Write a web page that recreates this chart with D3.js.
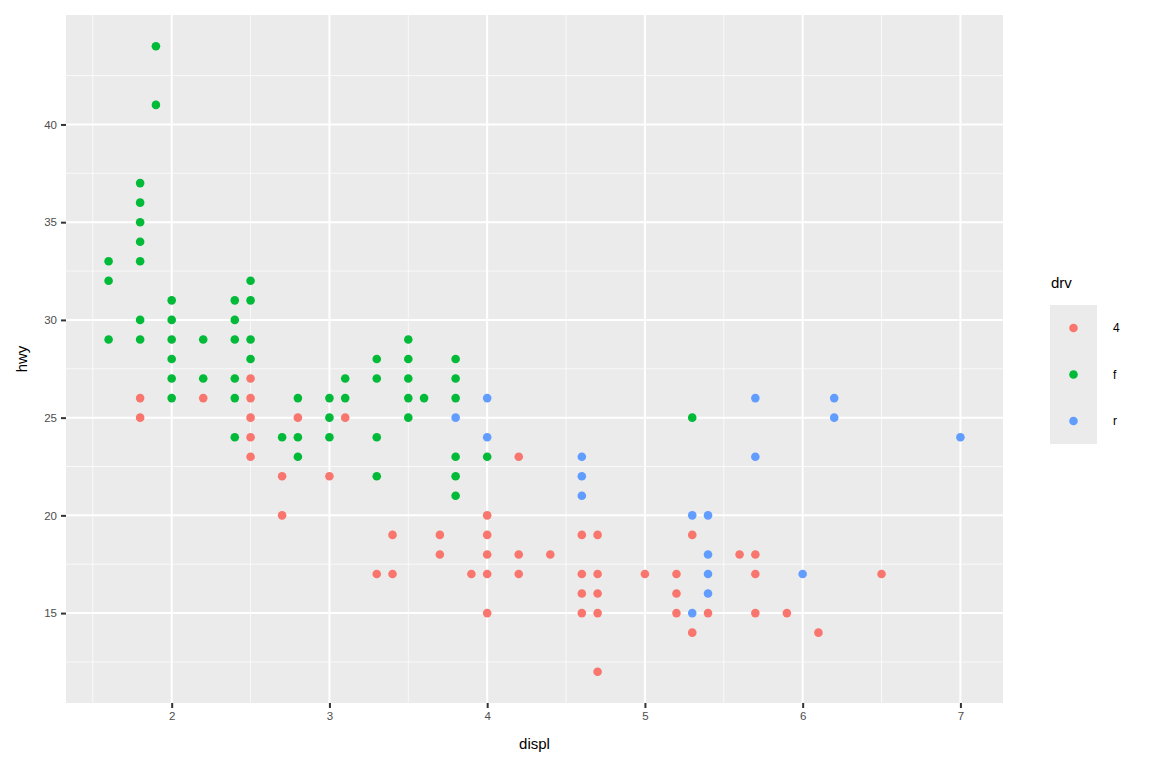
<!DOCTYPE html>
<html><head><meta charset="utf-8">
<script src="https://cdn.jsdelivr.net/npm/d3@7"></script>
<style>body{margin:0;background:#fff}text{font-family:"Liberation Sans",Arial,sans-serif}</style>
</head><body><svg id="c" width="1152" height="768"></svg>
<script>
const drvLevels = ["4","f","r"];
const colors = ["#F8766D","#00BA38","#619CFF"];
const xTicks = [2,3,4,5,6,7];
const yTicks = [15,20,25,30,35,40];
// [displ, [hwy values]] per drive type
const ptsF = [[1.6,[33,32,29]],[1.8,[37,36,35,34,33,30,29]],[1.9,[44,41]],[2.0,[31,30,29,28,27,26]],[2.2,[29,27]],[2.4,[31,30,29,27,26,24]],[2.5,[32,31,29,28]],[2.7,[24]],[2.8,[26,24,23]],[3.0,[26,25,24]],[3.1,[27,26]],[3.3,[28,27,24,22]],[3.5,[29,28,27,26,25]],[3.6,[26]],[3.8,[28,27,26,23,22,21]],[4.0,[23]],[5.3,[25]]];
const pts4 = [[1.8,[26,25]],[2.2,[26]],[2.5,[27,26,25,24,23]],[2.7,[22,20]],[2.8,[25]],[3.0,[22]],[3.1,[25]],[3.3,[17]],[3.4,[19,17]],[3.7,[19,18]],[3.9,[17]],[4.0,[20,19,18,17,15]],[4.2,[23,18,17]],[4.4,[18]],[4.6,[19,17,16,15]],[4.7,[19,17,16,15,12]],[5.0,[17]],[5.2,[17,16,15]],[5.3,[19,14]],[5.4,[15]],[5.6,[18]],[5.7,[18,17,15]],[5.9,[15]],[6.1,[14]],[6.5,[17]]];
const ptsR = [[3.8,[25]],[4.0,[26,24]],[4.6,[23,22,21]],[5.3,[20,15]],[5.4,[20,18,17,16]],[5.7,[26,23]],[6.0,[17]],[6.2,[26,25]],[7.0,[24]]];

const svg = d3.select("#c");
const L=66,R=1003,T=15,B=703;
const x = d3.scaleLinear().domain([1.33,7.27]).range([L,R]);
const y = d3.scaleLinear().domain([10.4,45.6]).range([B,T]);
svg.append("rect").attr("x",L).attr("y",T).attr("width",R-L).attr("height",B-T).attr("fill","#EBEBEB");
const g = svg.append("g");
const xMinor = [1.5,2.5,3.5,4.5,5.5,6.5];
const yMinor = [12.5,17.5,22.5,27.5,32.5,37.5,42.5];
xMinor.forEach(d=>g.append("line").attr("x1",x(d)).attr("x2",x(d)).attr("y1",T).attr("y2",B).attr("stroke","#fff").attr("stroke-width",0.7));
yMinor.forEach(d=>g.append("line").attr("y1",y(d)).attr("y2",y(d)).attr("x1",L).attr("x2",R).attr("stroke","#fff").attr("stroke-width",0.7));
xTicks.forEach(d=>g.append("line").attr("x1",x(d)).attr("x2",x(d)).attr("y1",T).attr("y2",B).attr("stroke","#fff").attr("stroke-width",2));
yTicks.forEach(d=>g.append("line").attr("y1",y(d)).attr("y2",y(d)).attr("x1",L).attr("x2",R).attr("stroke","#fff").attr("stroke-width",2));

const xa = svg.append("g").attr("transform",`translate(0,${B})`).call(d3.axisBottom(x).tickValues(xTicks).tickFormat(d3.format("d")).tickSize(5).tickPadding(4));
const ya = svg.append("g").attr("transform",`translate(${L},0)`).call(d3.axisLeft(y).tickValues(yTicks).tickFormat(d3.format("d")).tickSize(5).tickPadding(4));
[xa,ya].forEach(a=>{a.select(".domain").remove();a.selectAll(".tick line").attr("stroke","#333333").attr("stroke-width",2);a.selectAll("text").attr("fill","#4D4D4D").style("font-size","11.5px").style("font-family","Liberation Sans, Arial");});

const all=[];
[[pts4,0],[ptsF,1],[ptsR,2]].forEach(([arr,k])=>arr.forEach(([dx,hs])=>hs.forEach(h=>all.push({dx,h,k}))));
svg.append("g").selectAll("circle").data(all).join("circle").attr("cx",d=>x(d.dx)).attr("cy",d=>y(d.h)).attr("r",4.3).attr("fill",d=>colors[d.k]);

svg.append("text").attr("x",(L+R)/2).attr("y",749).attr("text-anchor","middle").style("font-size","15px").text("displ");
svg.append("text").attr("transform",`translate(27,${(T+B)/2}) rotate(-90)`).attr("text-anchor","middle").style("font-size","15px").text("hwy");

svg.append("text").attr("x",1051).attr("y",288).style("font-size","15px").text("drv");
svg.append("rect").attr("x",1050).attr("y",305).attr("width",47).attr("height",139).attr("fill","#EBEBEB");
drvLevels.forEach((lv,i)=>{
  const cy=328+i*46.5;
  svg.append("circle").attr("cx",1073.5).attr("cy",cy).attr("r",4.3).attr("fill",colors[i]);
  svg.append("text").attr("x",1113).attr("y",cy+4).style("font-size","12px").attr("fill","#000").text(lv);
});
</script></body></html>
